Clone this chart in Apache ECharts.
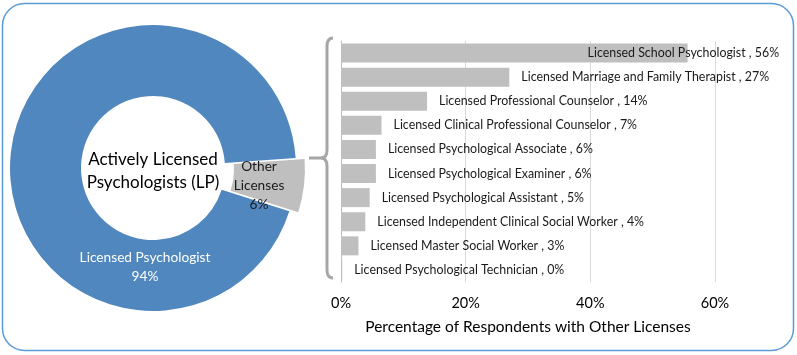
<!DOCTYPE html>
<html>
<head>
<meta charset="utf-8">
<script src="https://cdn.jsdelivr.net/npm/echarts@6/dist/echarts.min.js"></script>
<style>html,body{margin:0;padding:0;background:#fff;}#c{width:797px;height:355px;}</style>
</head>
<body>
<div id="c"></div>
<script>
// Donut data
const pieLabels = ['Other\nLicenses', 'Licensed Psychologist'];
const pieValues = [6, 94];
const centerTitle = 'Actively Licensed\nPsychologists (LP)';

// Bar data
const categories = [
  'Licensed School Psychologist',
  'Licensed Marriage and Family Therapist',
  'Licensed Professional Counselor',
  'Licensed Clinical Professional Counselor',
  'Licensed Psychological Associate',
  'Licensed Psychological Examiner',
  'Licensed Psychological Assistant',
  'Licensed Independent Clinical Social Worker',
  'Licensed Master Social Worker',
  'Licensed Psychological Technician'
];
const barValues = [55.6, 27.0, 13.8, 6.5, 5.6, 5.6, 4.6, 3.9, 2.8, 0.2];
const xTicks = [0, 20, 40, 60];
const xAxisName = 'Percentage of Respondents with Other Licenses';

const FONT = 'Lato';
const chart = echarts.init(document.getElementById('c'), null, {renderer: 'canvas'});

const braceStyle = {fill: 'none', stroke: '#a6a6a6', lineWidth: 3};
const seg = (type, shape) => ({type, shape, style: braceStyle, z: 5, silent: true});

const pieColors = ['#bfbfbf', '#4f87be'];
const labelColors = ['#1a1a1a', '#ffffff'];
const labelPos = [[259, 186], [145, 267]];
// explode the "Other" slice: shift its pie center along the slice bisector
const explode = 9, bisector = -7 * Math.PI / 180;
const centers = [[153 + explode * Math.cos(bisector), 168 - explode * Math.sin(bisector)], [153, 168]];

function pieSeries(k) {
  return {
    type: 'pie', center: centers[k], radius: [72, 143], startAngle: 4, clockwise: true,
    avoidLabelOverlap: false, silent: true, z: 2,
    emphasis: {disabled: true},
    data: pieValues.map((v, i) => ({
      value: v, name: pieLabels[i],
      itemStyle: {color: i === k ? pieColors[i] : 'rgba(0,0,0,0)'},
      label: {show: i === k, color: labelColors[i]}
    })),
    label: {position: 'inside', formatter: p => p.name + '\n' + Math.round(p.percent) + '%',
      fontFamily: FONT, fontSize: 13.7, lineHeight: 19, align: 'center'},
    labelLine: {show: false},
    labelLayout: p => ({x: labelPos[p.dataIndex][0], y: labelPos[p.dataIndex][1], align: 'center', verticalAlign: 'middle'})
  };
}

chart.setOption({
  animation: false,
  textStyle: {fontFamily: FONT},
  graphic: [
    {type: 'rect', shape: {x: 2.5, y: 3.5, width: 791, height: 347, r: 22},
     style: {fill: 'none', stroke: '#5b9bd5', lineWidth: 1.5}, z: 0, silent: true},
    seg('bezierCurve', {x1: 333, y1: 38, cpx1: 327, cpy1: 38, x2: 327, y2: 46}),
    seg('line', {x1: 327, y1: 46, x2: 327, y2: 150}),
    seg('bezierCurve', {x1: 327, y1: 150, cpx1: 327, cpy1: 158, x2: 321, y2: 158}),
    seg('bezierCurve', {x1: 321, y1: 158, cpx1: 327, cpy1: 158, x2: 327, y2: 166}),
    seg('line', {x1: 327, y1: 166, x2: 327, y2: 270}),
    seg('bezierCurve', {x1: 327, y1: 270, cpx1: 327, cpy1: 278, x2: 333, y2: 278}),
    seg('line', {x1: 309, y1: 158, x2: 321, y2: 158}),
    {type: 'text', x: 153, y: 171, z: 10, silent: true,
     style: {text: centerTitle, fontFamily: FONT, fontSize: 17, lineHeight: 23, fill: '#000', align: 'center', verticalAlign: 'middle'}}
  ],
  grid: {left: 341, right: 82, top: 41, bottom: 73},
  xAxis: {
    type: 'value', min: xTicks[0], max: xTicks[xTicks.length - 1], interval: 20,
    axisLine: {show: false}, axisTick: {show: false},
    splitLine: {show: true, lineStyle: {color: '#d9d9d9', width: 1}},
    axisLabel: {formatter: v => v + '%', fontSize: 14.5, color: '#000', fontFamily: FONT, margin: 14},
    name: xAxisName, nameLocation: 'middle', nameGap: 37,
    nameTextStyle: {fontSize: 15.5, color: '#000', fontFamily: FONT}
  },
  yAxis: {
    type: 'category', data: categories, inverse: true,
    axisLine: {show: true, lineStyle: {color: '#bfbfbf', width: 1}},
    axisTick: {show: false}, axisLabel: {show: false}, splitLine: {show: false}
  },
  series: [
    pieSeries(1),
    pieSeries(0),
    {
      type: 'bar', barWidth: 19,
      itemStyle: {color: '#bfbfbf'},
      emphasis: {disabled: true},
      data: barValues.map((v, i) => ({
        value: v,
        label: i === 0 ? {offset: [-112, 0]} : {}
      })),
      label: {show: true, position: 'right', distance: 12, color: '#1a1a1a', fontFamily: FONT, fontSize: 12.4,
        formatter: p => categories[p.dataIndex] + ' , ' + Math.round(p.value) + '%'}
    }
  ]
});
</script>
</body>
</html>
